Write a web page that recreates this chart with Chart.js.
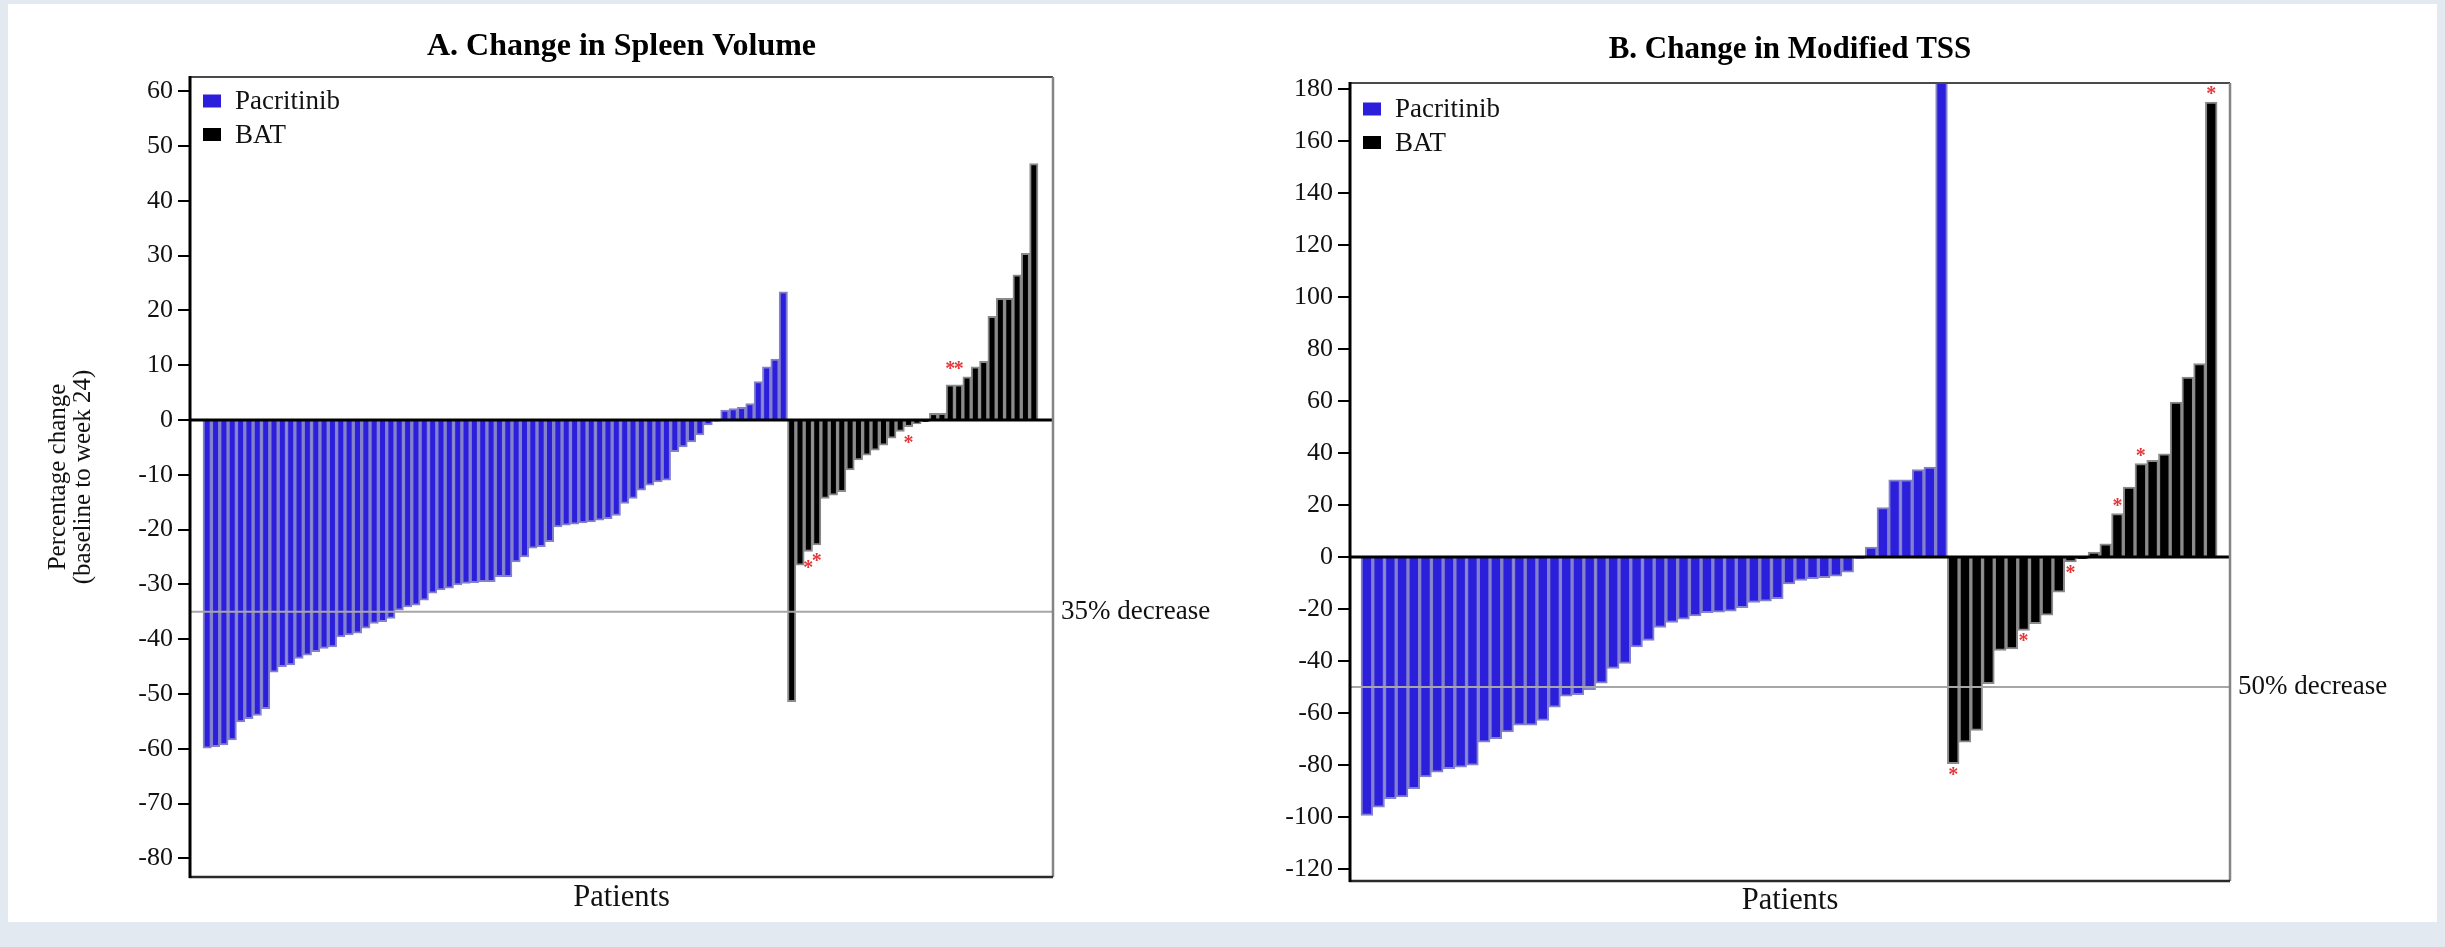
<!DOCTYPE html>
<html>
<head>
<meta charset="utf-8">
<title>Pacritinib vs BAT – waterfall plots</title>
<script src="https://cdn.jsdelivr.net/npm/chart.js@4/dist/chart.umd.min.js"></script>
<style>
  html, body { margin: 0; padding: 0; background: #e2e9f1; }
  body { width: 2445px; height: 947px; position: relative; overflow: hidden; }
  #card { position: absolute; left: 8px; top: 4px; width: 2429px; height: 918px; background: #ffffff; }
  .panel { position: absolute; top: 0; height: 947px; }
  #wrapA { left: 0; width: 1240px; }
  #wrapB { left: 1240px; width: 1205px; }
</style>
</head>
<body>
<div id="card"></div>
<div class="panel" id="wrapA"><canvas id="spleenChart"></canvas></div>
<div class="panel" id="wrapB"><canvas id="tssChart"></canvas></div>
<script>
// ---- series ----
const seriesNames = ['Pacritinib', 'BAT'];
const seriesFill = ['#2b1fdc', '#000000'];
const seriesEdge = ['#8381cc', '#8a8a8a'];

// A. percentage change in spleen volume, baseline to week 24 (sorted per arm)
const spleenPacritinib = [
  -59.9, -59.6, -59.3, -58.4, -55.1, -54.5, -53.9, -52.7, -46.0, -45.0,
  -44.7, -43.5, -42.9, -42.3, -41.7, -41.4, -39.6, -39.2, -38.9, -38.0,
  -37.1, -36.8, -36.2, -34.7, -34.1, -33.8, -32.9, -31.6, -31.0, -30.7,
  -30.1, -29.8, -29.7, -29.5, -29.5, -28.6, -28.6, -25.9, -25.0, -23.4,
  -23.1, -22.2, -19.5, -19.2, -19.0, -18.8, -18.6, -18.3, -18.0, -17.4,
  -15.2, -14.3, -12.8, -11.9, -11.3, -11.0, -5.8, -4.9, -4.0, -2.7,
  -0.9, -0.2, 1.8, 2.1, 2.3, 3.0, 7.0, 9.7, 11.1, 23.4
];
const spleenBAT = [
  -51.4, -26.5, -24.0, -22.8, -14.3, -13.7, -13.1, -9.1, -7.3, -6.4,
  -5.5, -4.6, -3.3, -2.1, -1.2, -0.7, -0.3, 1.2, 1.2, 6.4,
  6.4, 7.9, 9.7, 10.7, 18.9, 22.2, 22.2, 26.5, 30.4, 46.8
];
const spleenStarred = [2, 3, 14, 19, 20];   // BAT patients flagged with *
const spleenTicks = [-80, -70, -60, -50, -40, -30, -20, -10, 0, 10, 20, 30, 40, 50, 60];
const spleenCut = -35;

// B. percentage change in modified total symptom score
const tssPacritinib = [
  -99.4, -96.2, -92.9, -92.3, -89.1, -84.6, -82.7, -81.4, -80.8, -80.1,
  -71.2, -69.9, -67.3, -64.7, -64.7, -62.8, -57.7, -53.5, -52.9, -51.0,
  -48.5, -42.8, -40.9, -34.6, -32.1, -27.1, -25.2, -23.9, -22.7, -21.4,
  -21.2, -20.8, -19.5, -17.5, -17.0, -16.0, -10.3, -9.0, -8.3, -7.9,
  -7.4, -5.8, -0.5, 3.8, 19.0, 29.7, 29.7, 33.6, 34.6, 240
];
const tssBAT = [
  -79.5, -71.2, -66.7, -48.7, -35.9, -35.3, -28.2, -25.6, -22.4, -13.5,
  -1.9, -0.6, 1.9, 5.1, 16.7, 26.9, 35.9, 37.2, 39.7, 59.6,
  69.2, 74.4, 175.0
];
const tssStarred = [0, 6, 10, 14, 16, 22];
const tssTicks = [-120, -100, -80, -60, -40, -20, 0, 20, 40, 60, 80, 100, 120, 140, 160, 180];
const tssCut = -50;

// ---- shared styling ----
const SERIF = '"Liberation Serif", "Times New Roman", serif';
Chart.defaults.font.family = SERIF;
Chart.defaults.color = '#111111';

function points(values, start) {
  return values.map((v, i) => ({ x: start + i, y: v }));
}

// frame, zero line, cut-off line, legend and asterisks
const decor = {
  id: 'decor',
  afterDatasetsDraw(chart, args, o) {
    const { ctx, chartArea: a, scales: { y } } = chart;
    const seg = (x1, y1, x2, y2, color, w) => {
      ctx.beginPath(); ctx.strokeStyle = color; ctx.lineWidth = w;
      ctx.moveTo(x1, y1); ctx.lineTo(x2, y2); ctx.stroke();
    };
    ctx.save();
    const cy = y.getPixelForValue(o.cut);
    seg(a.left, cy, a.right, cy, '#a6a6a6', 2);
    const zy = y.getPixelForValue(0);
    seg(a.left, zy, a.right, zy, '#000000', 3);

    // frame
    seg(a.left - 1, a.top, a.right, a.top, '#4a4a4a', 2);
    seg(a.right, a.top, a.right, a.bottom, '#858585', 2.5);
    seg(a.left - 1, a.bottom, a.right, a.bottom, '#2a2a2a', 2.5);
    seg(a.left, a.top - 1, a.left, a.bottom + 1, '#000000', 3);

    // cut-off label
    ctx.fillStyle = '#111111';
    ctx.font = '27px ' + SERIF;
    ctx.textAlign = 'left';
    ctx.textBaseline = 'middle';
    ctx.fillText(o.cutLabel, a.right + 8, cy);

    // legend
    chart.data.datasets.forEach((ds, i) => {
      const ly = a.top + o.legendTop + i * 33.5;
      ctx.fillStyle = ds.backgroundColor;
      ctx.fillRect(a.left + 13, ly - 6.5, 18, 13);
      ctx.fillStyle = '#111111';
      ctx.font = '27px ' + SERIF;
      ctx.fillText(ds.label, a.left + 45, ly + 1);
    });

    // asterisks on flagged BAT patients
    const meta = chart.getDatasetMeta(1);
    const vals = chart.data.datasets[1].data;
    ctx.fillStyle = '#e5373b';
    ctx.font = 'bold 20px ' + SERIF;
    ctx.textAlign = 'center';
    ctx.textBaseline = 'alphabetic';
    const m = ctx.measureText('*');
    const mid = (m.actualBoundingBoxAscent - m.actualBoundingBoxDescent) / 2;
    o.starred.forEach(i => {
      const bar = meta.data[i];
      const v = vals[i].y;
      const cyStar = v < 0 ? bar.y + o.starBelow : bar.y - o.starAbove;
      ctx.fillText('*', bar.x, cyStar + mid);
    });
    ctx.restore();
  }
};

function waterfall(canvasId, cfg) {
  const nPac = cfg.pac.length;
  return new Chart(document.getElementById(canvasId), {
    type: 'bar',
    data: {
      datasets: [
        { label: seriesNames[0], data: points(cfg.pac, 0),
          backgroundColor: seriesFill[0], borderColor: seriesEdge[0] },
        { label: seriesNames[1], data: points(cfg.bat, nPac),
          backgroundColor: seriesFill[1], borderColor: seriesEdge[1] }
      ]
    },
    options: {
      responsive: true,
      maintainAspectRatio: false,
      animation: false,
      events: [],
      layout: { padding: { left: 0, right: cfg.padRight, top: 0, bottom: 0 } },
      datasets: {
        bar: { grouped: false, barPercentage: 1, categoryPercentage: 1,
               borderWidth: 2, borderSkipped: 'start', clip: 0 }
      },
      scales: {
        x: {
          type: 'linear',
          offset: false,
          min: cfg.xMin, max: cfg.xMax,
          ticks: { display: false },
          grid: { display: false, offset: false },
          border: { display: false },
          title: { display: true, text: 'Patients',
                   font: { size: 30.5, lineHeight: 1.2 },
                   padding: { top: 0, bottom: cfg.patientsPad } },
          afterFit(s) { s.height = cfg.xHeight; }
        },
        y: {
          min: cfg.yMin, max: cfg.yMax,
          afterBuildTicks(s) { s.ticks = cfg.ticks.map(v => ({ value: v })); },
          ticks: { font: { size: 26 }, padding: 5, color: '#111111' },
          grid: { display: true, drawOnChartArea: false, drawTicks: true,
                  tickLength: 12, color: '#000000', lineWidth: 2 },
          border: { display: false },
          title: cfg.yTitle ? { display: true, text: cfg.yTitle,
                   font: { size: 25, lineHeight: 1.0 },
                   padding: { top: 45.5, bottom: 0 } } : { display: false },
          afterFit(s) { s.width = cfg.yWidth; }
        }
      },
      plugins: {
        legend: { display: false },
        tooltip: { enabled: false },
        title: { display: true, text: cfg.title, fullSize: false,
                 font: { size: cfg.titleSize, weight: 'bold', lineHeight: 1.2 }, color: '#000000',
                 padding: { top: cfg.titleTop, bottom: cfg.titleBottom } },
        decor: { cut: cfg.cut, cutLabel: cfg.cutLabel, starred: cfg.starred,
                 legendTop: cfg.legendTop, starBelow: cfg.starBelow, starAbove: cfg.starAbove }
      }
    },
    plugins: [decor]
  });
}

waterfall('spleenChart', {
  title: 'A. Change in Spleen Volume', titleSize: 32,
  pac: spleenPacritinib, bat: spleenBAT, starred: spleenStarred,
  ticks: spleenTicks, yMin: -83.4, yMax: 62.6,
  xMin: -2.06, xMax: 101.3,
  cut: spleenCut, cutLabel: '35% decrease',
  yTitle: ['Percentage change', '(baseline to week 24)'],
  yWidth: 190, padRight: 187, xHeight: 70, patientsPad: 30.7,
  titleTop: 27.8, titleBottom: 10.8, legendTop: 24,
  starBelow: 12, starAbove: 20
});

waterfall('tssChart', {
  title: 'B. Change in Modified TSS', titleSize: 31,
  pac: tssPacritinib, bat: tssBAT, starred: tssStarred,
  ticks: tssTicks, yMin: -124.6, yMax: 182.3,
  xMin: -1.44, xMax: 73.6,
  cut: tssCut, cutLabel: '50% decrease',
  yTitle: null,
  yWidth: 110, padRight: 215, xHeight: 66, patientsPad: 27.7,
  titleTop: 31.4, titleBottom: 14.4, legendTop: 26,
  starBelow: 7, starAbove: 12
});
</script>
</body>
</html>
